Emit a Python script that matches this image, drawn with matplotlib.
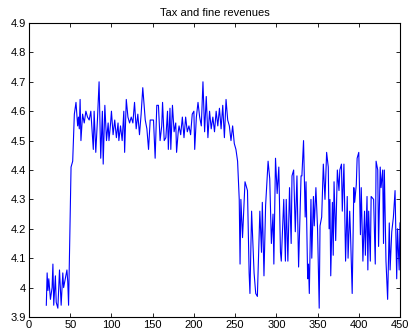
import numpy as np
import matplotlib
matplotlib.use("Agg")
import matplotlib.pyplot as plt
from matplotlib.ticker import FormatStrFormatter, FuncFormatter

# Low level before the jump
pre_x = [21, 22, 23, 24, 26, 28, 29, 30, 32, 33, 35, 37, 39, 41, 42, 44, 46, 47, 48]
pre_y = [3.94, 4.05, 3.99, 4.03, 3.96, 4.00, 4.08, 3.94, 4.04, 3.95, 3.93, 4.06,
         3.94, 4.05, 4.00, 4.03, 4.06, 4.02, 3.94]

# High plateau
high_x = [51, 53, 55, 57, 59, 60, 61, 62, 63, 65, 67, 69, 71, 73, 75, 78, 79, 81, 83, 85,
          87, 89, 90, 92, 94, 96, 97, 99, 100, 102, 104, 106, 108, 109, 111, 113, 115, 116,
          118, 120, 122, 124, 126, 128, 130, 132, 134, 136, 138, 141, 143, 145, 147, 149,
          151, 153, 155, 157, 159, 161, 162, 164, 166, 168, 169, 171, 172, 174, 176, 178,
          179, 181, 182, 184, 186, 188, 190, 192, 194, 196, 198, 200, 201, 203, 205, 207,
          209, 211, 213, 215, 217, 219, 221, 223, 225, 227, 229, 231, 233, 235, 237, 239,
          241, 243, 245, 247, 249, 251, 253]
high_y = [4.41, 4.43, 4.59, 4.63, 4.55, 4.58, 4.54, 4.64, 4.50, 4.59, 4.56, 4.60, 4.58,
          4.57, 4.60, 4.47, 4.60, 4.46, 4.57, 4.70, 4.44, 4.60, 4.42, 4.62, 4.50, 4.56,
          4.50, 4.56, 4.60, 4.52, 4.57, 4.51, 4.56, 4.50, 4.55, 4.50, 4.60, 4.46, 4.64,
          4.58, 4.56, 4.58, 4.56, 4.63, 4.54, 4.59, 4.52, 4.59, 4.68, 4.57, 4.54, 4.47,
          4.57, 4.57, 4.57, 4.44, 4.62, 4.62, 4.50, 4.55, 4.63, 4.50, 4.51, 4.60, 4.47,
          4.61, 4.47, 4.62, 4.53, 4.56, 4.46, 4.53, 4.55, 4.52, 4.58, 4.51, 4.58, 4.53,
          4.55, 4.52, 4.59, 4.60, 4.47, 4.58, 4.63, 4.58, 4.55, 4.70, 4.53, 4.65, 4.51,
          4.60, 4.54, 4.58, 4.53, 4.60, 4.55, 4.61, 4.54, 4.62, 4.51, 4.64, 4.57, 4.55,
          4.50, 4.55, 4.49, 4.47, 4.43]

# After the drop
post_x = [255, 256, 257, 259, 262, 265, 267, 268, 270, 273, 275, 277, 280, 282, 283, 285,
          287, 290, 292, 294, 296, 297, 299, 301, 303, 305, 306, 309, 311, 312, 314, 316,
          318, 319, 321, 323, 325, 327, 330, 331, 333, 335, 336, 338, 339, 340, 342, 343,
          345, 346, 348, 350, 352, 353, 355, 357, 359, 361, 363, 364, 365, 366, 368, 369,
          370, 372, 374, 376, 377, 379, 380, 382, 384, 386, 387, 389, 390, 392, 394, 395,
          397, 398, 400, 402, 403, 405, 407, 408, 410, 411, 412, 414, 415, 418, 420, 421,
          423, 424, 426, 427, 429, 430, 431, 433, 435, 437, 438, 440, 442, 444, 446, 447,
          449, 450]
post_y = [4.30, 4.08, 4.30, 4.17, 4.36, 4.33, 4.05, 3.98, 4.26, 4.05, 3.98, 3.97, 4.26,
          4.12, 4.29, 4.04, 4.28, 4.43, 4.37, 4.15, 4.25, 4.08, 4.44, 4.32, 4.41, 4.12,
          4.09, 4.30, 4.09, 4.30, 4.09, 4.34, 4.15, 4.38, 4.40, 4.19, 4.38, 4.07, 4.38,
          4.38, 4.50, 4.24, 4.36, 4.03, 4.08, 3.98, 4.30, 4.10, 4.31, 4.21, 4.34, 4.20,
          3.93, 4.21, 4.24, 4.42, 4.30, 4.46, 4.41, 4.20, 4.30, 4.04, 4.29, 4.11, 4.36,
          4.16, 4.40, 4.33, 4.40, 4.42, 4.26, 4.42, 4.09, 4.31, 4.10, 4.26, 4.18, 3.98,
          4.34, 4.29, 4.35, 4.44, 4.46, 4.18, 4.34, 4.09, 4.26, 4.11, 4.31, 4.06, 4.26,
          4.09, 4.31, 4.30, 4.08, 4.43, 4.40, 4.14, 4.41, 4.34, 4.40, 4.15, 4.40, 4.09,
          3.96, 4.22, 4.06, 4.19, 4.24, 4.33, 4.03, 4.20, 4.06, 4.22]

x_ticks = np.arange(0, 451, 50)
y_ticks = np.round(np.arange(3.9, 4.91, 0.1), 1)

x = np.concatenate([pre_x, high_x, post_x])
y = np.concatenate([pre_y, high_y, post_y])

plt.rcParams['font.family'] = ['Liberation Sans', 'DejaVu Sans']
plt.rcParams['font.size'] = 8

fig = plt.figure(figsize=(4.11, 3.33), dpi=100)
ax = fig.add_axes([29 / 411, 1 - 317 / 333, 371 / 411, 294 / 333])
ax.plot(x, y, color='#0000ff', linewidth=0.8)

ax.set_xlim(0, 450)
ax.set_ylim(3.9, 4.9)
ax.set_xticks(x_ticks)
ax.set_yticks(y_ticks)
ax.yaxis.set_major_formatter(FuncFormatter(lambda v, p: '%g' % round(v, 1)))
ax.tick_params(direction='in', top=True, right=True, length=3, width=0.6,
               labelsize=8, pad=2)
for s in ax.spines.values():
    s.set_linewidth(0.8)
ax.set_title("Tax and fine revenues", fontsize=8, pad=5)

fig.savefig("out.png", dpi=100)
